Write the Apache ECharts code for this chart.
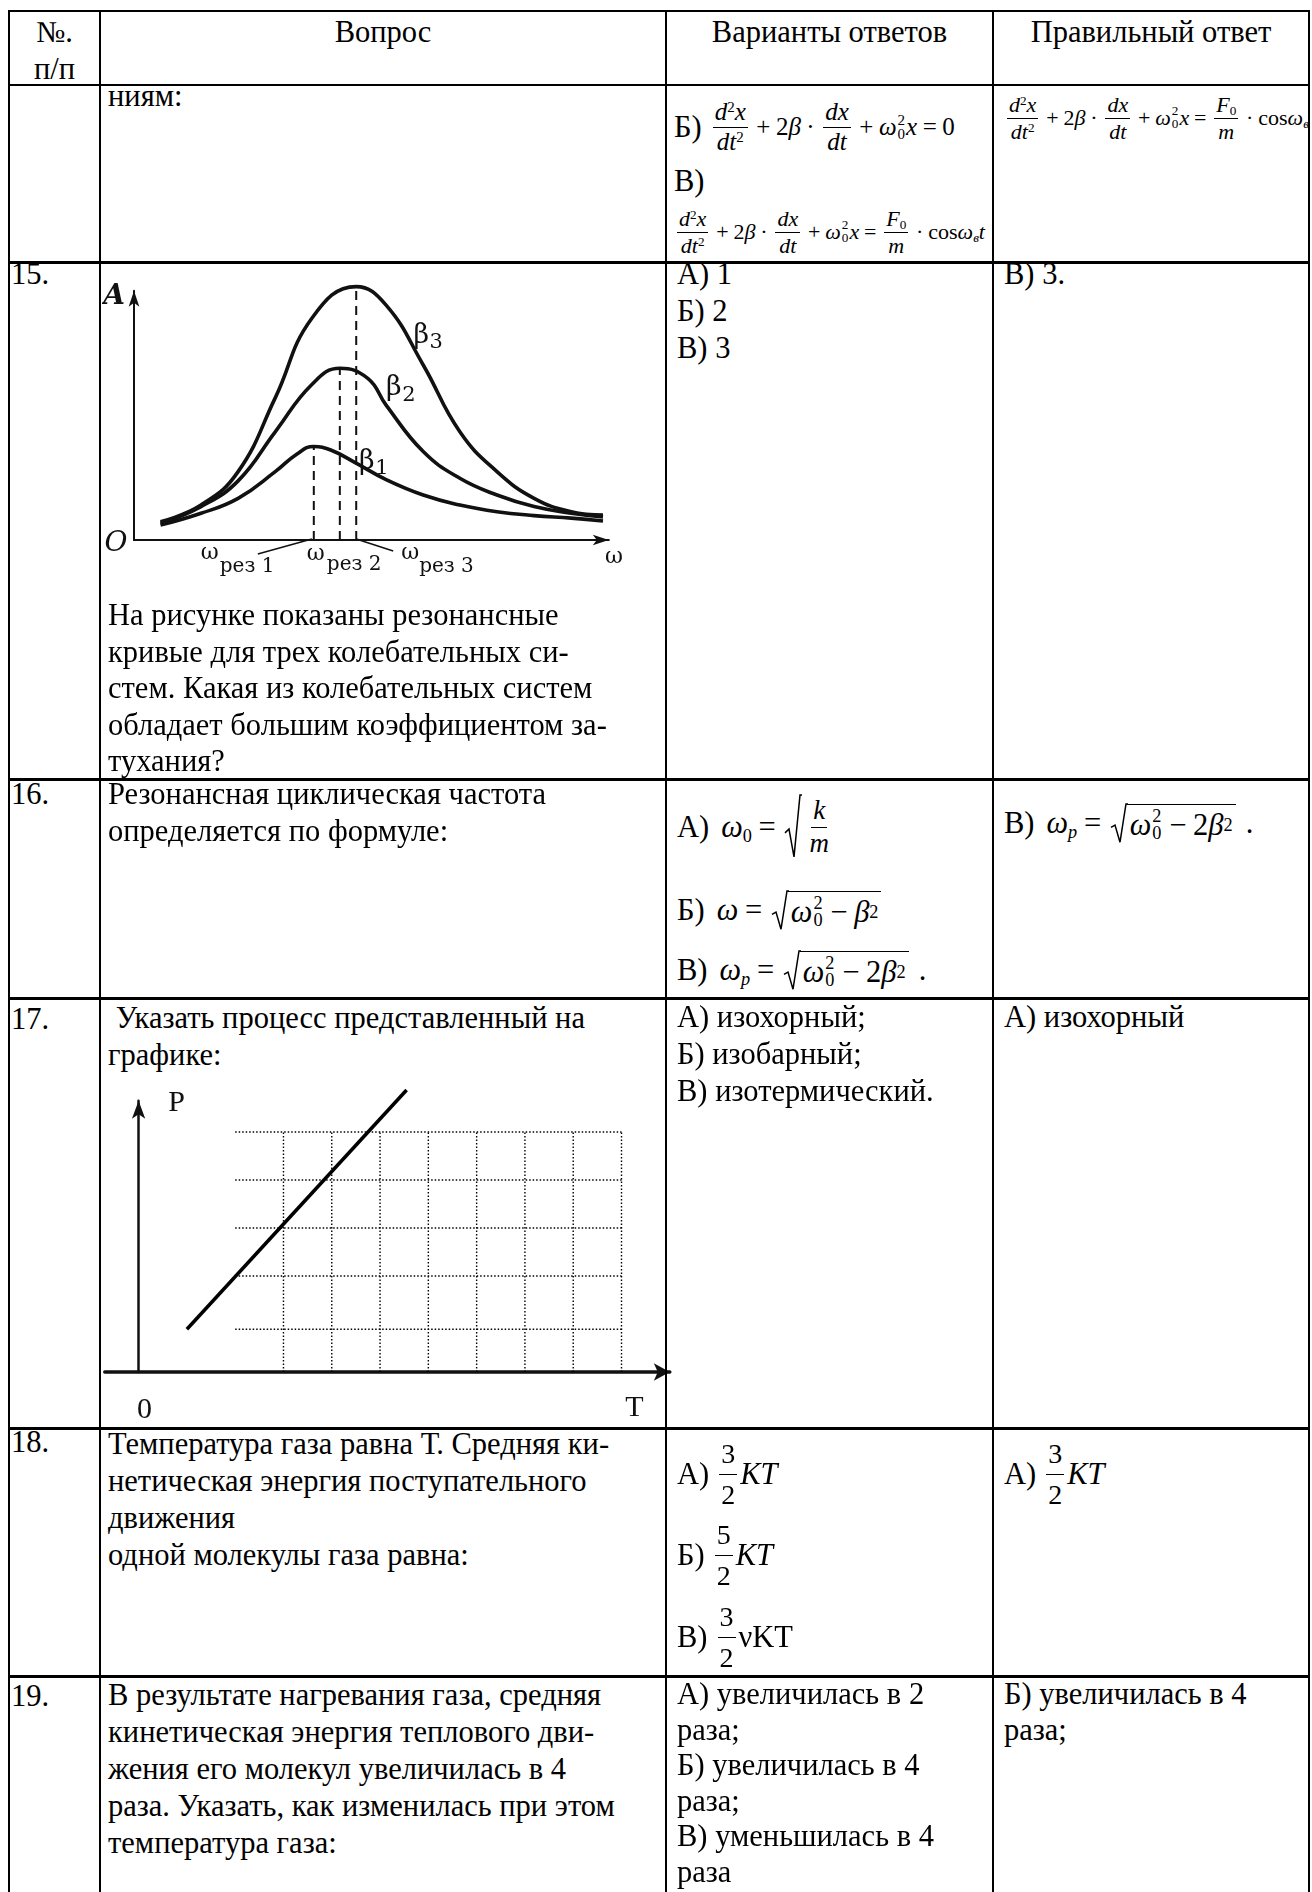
<!DOCTYPE html>
<html lang="ru">
<head>
<meta charset="utf-8">
<title>Тестовые задания 15–19</title>
<script src="https://cdn.jsdelivr.net/npm/echarts@6/dist/echarts.min.js"></script>
<style>
  body { margin: 0; background: #fff; }
  #page { position: relative; width: 1312px; height: 1892px; overflow: hidden;
          font-family: 'Liberation Serif', 'Times New Roman', serif; color: #000; }
  .ln { position: absolute; background: #000; }
  .c { position: absolute; font-size: 30.5px; line-height: 37px; white-space: nowrap; }
  .ctr { text-align: center; }
  .fl { position: absolute; display: flex; align-items: center; white-space: nowrap;
        font-size: 30.5px; height: 100px; }
  .eq { display: inline-flex; align-items: center; }
  .frac { display: inline-flex; flex-direction: column; align-items: center; margin: 0 3px; }
  .frac > .n { border-bottom: 1.4px solid #000; padding: 0 2px; line-height: 1.15; }
  .frac > .d { line-height: 1.15; padding: 0 2px; }
  .op { padding: 0 0.22em; }
  sup { font-size: 0.6em; vertical-align: 0.55em; line-height: 0; }
  sub { font-size: 0.6em; vertical-align: -0.25em; line-height: 0; }
  .ss { display: inline-flex; flex-direction: column; font-size: 0.6em; line-height: 0.95; margin: 0 1px; }
  .sqrt { position: relative; display: inline-flex; align-items: center; padding-left: 16px; margin-left: 3px; }
  .sqrt svg { position: absolute; left: 0; top: 0; width: 16px; height: 100%; overflow: visible; }
  .sqrt polyline { fill: none; stroke: #000; stroke-width: 1.5; }
  .rc { display: inline-flex; align-items: center; border-top: 1.5px solid #000; padding: 3px 3px 0; }
  #resonance { position: absolute; left: 102px; top: 263px; width: 545px; height: 335px; }
  #isochore { position: absolute; left: 102px; top: 1080px; width: 590px; height: 346px; }
</style>
</head>
<body>
<div id="page">

  <!-- шапка -->
  <div class="c ctr" style="left:9px;top:14px;width:91px">№.</div>
  <div class="c ctr" style="left:9px;top:51px;width:91px">п/п</div>
  <div class="c ctr" style="left:100px;top:14px;width:566px">Вопрос</div>
  <div class="c ctr" style="left:666px;top:14px;width:327px">Варианты ответов</div>
  <div class="c ctr" style="left:993px;top:14px;width:316px">Правильный ответ</div>

  <!-- продолжение 14 -->
  <div class="c" style="left:108px;top:78px">ниям:</div>
  <div class="fl" style="left:674px;top:77px">
    <span>Б)</span>
    <span class="eq" style="font-size:25px;margin-left:8px">
      <span class="frac"><span class="n"><i>d</i><sup>2</sup><i>x</i></span><span class="d"><i>dt</i><sup>2</sup></span></span>
      <span class="op">+</span><span>2<i>β</i></span><span class="op">·</span>
      <span class="frac"><span class="n"><i>dx</i></span><span class="d"><i>dt</i></span></span>
      <span class="op">+</span><i>ω</i><span class="ss"><span>2</span><span>0</span></span><i>x</i>
      <span class="op">=</span><span>0</span>
    </span>
  </div>
  <div class="c" style="left:674px;top:163px">В)</div>
  <div class="fl" style="left:674px;top:182px">
    <span class="eq" style="font-size:22px">
      <span class="frac"><span class="n"><i>d</i><sup>2</sup><i>x</i></span><span class="d"><i>dt</i><sup>2</sup></span></span>
      <span class="op">+</span><span>2<i>β</i></span><span class="op">·</span>
      <span class="frac"><span class="n"><i>dx</i></span><span class="d"><i>dt</i></span></span>
      <span class="op">+</span><i>ω</i><span class="ss"><span>2</span><span>0</span></span><i>x</i>
      <span class="op">=</span>
      <span class="frac"><span class="n"><i>F</i><sub>0</sub></span><span class="d"><i>m</i></span></span>
      <span class="op">·</span><span>cos<i>ω</i><sub><i>в</i></sub><i>t</i></span>
    </span>
  </div>
  <div style="position:absolute;left:995px;top:86px;width:313px;height:175px;overflow:hidden">
    <div class="fl" style="left:9px;top:-18px">
      <span class="eq" style="font-size:22px">
        <span class="frac"><span class="n"><i>d</i><sup>2</sup><i>x</i></span><span class="d"><i>dt</i><sup>2</sup></span></span>
        <span class="op">+</span><span>2<i>β</i></span><span class="op">·</span>
        <span class="frac"><span class="n"><i>dx</i></span><span class="d"><i>dt</i></span></span>
        <span class="op">+</span><i>ω</i><span class="ss"><span>2</span><span>0</span></span><i>x</i>
        <span class="op">=</span>
        <span class="frac"><span class="n"><i>F</i><sub>0</sub></span><span class="d"><i>m</i></span></span>
        <span class="op">·</span><span>cos<i>ω</i><sub><i>в</i></sub><i>t</i></span>
      </span>
    </div>
  </div>

  <!-- 15 -->
  <div class="c" style="left:11px;top:256px">15.</div>
  <div id="resonance"></div>
  <div class="c" style="left:108px;top:597px;line-height:36.5px">На рисунке показаны резонансные<br>кривые для трех колебательных си-<br>стем. Какая из колебательных систем<br>обладает большим коэффициентом за-<br>тухания?</div>
  <div class="c" style="left:677px;top:256px">А) 1<br>Б) 2<br>В) 3</div>
  <div class="c" style="left:1004px;top:256px">В) 3.</div>

  <!-- 16 -->
  <div class="c" style="left:11px;top:776px">16.</div>
  <div class="c" style="left:108px;top:776px">Резонансная циклическая частота<br>определяется по формуле:</div>
  <div class="fl" style="left:677px;top:777px">
    <span>А)</span>
    <span class="eq" style="margin-left:12px">
      <span><i>ω</i><sub>0</sub></span><span class="op">=</span>
      <span class="sqrt"><svg viewBox="0 0 16 100" preserveAspectRatio="none"><polyline vector-effect="non-scaling-stroke" points="0,60 4,54 9,98 15,0 17,0"/></svg>
        <span class="rc" style="border-top:none;padding-top:0"><span class="frac" style="font-size:27px"><span class="n"><i>k</i></span><span class="d"><i>m</i></span></span></span></span>
    </span>
  </div>
  <div class="fl" style="left:677px;top:860px">
    <span>Б)</span>
    <span class="eq" style="margin-left:12px">
      <i>ω</i><span class="op">=</span>
      <span class="sqrt"><svg viewBox="0 0 16 100" preserveAspectRatio="none"><polyline vector-effect="non-scaling-stroke" points="0,60 4,54 9,98 15,0 17,0"/></svg>
        <span class="rc"><i>ω</i><span class="ss"><span>2</span><span>0</span></span><span class="op">−</span><i>β</i><sup style="vertical-align:0.7em">2</sup></span></span>
    </span>
  </div>
  <div class="fl" style="left:677px;top:920px">
    <span>В)</span>
    <span class="eq" style="margin-left:12px">
      <span><i>ω</i><sub><i>p</i></sub></span><span class="op">=</span>
      <span class="sqrt"><svg viewBox="0 0 16 100" preserveAspectRatio="none"><polyline vector-effect="non-scaling-stroke" points="0,60 4,54 9,98 15,0 17,0"/></svg>
        <span class="rc"><i>ω</i><span class="ss"><span>2</span><span>0</span></span><span class="op">−</span>2<i>β</i><sup style="vertical-align:0.7em">2</sup></span></span>
      <span style="margin-left:10px">.</span>
    </span>
  </div>
  <div class="fl" style="left:1004px;top:773px">
    <span>В)</span>
    <span class="eq" style="margin-left:12px">
      <span><i>ω</i><sub><i>p</i></sub></span><span class="op">=</span>
      <span class="sqrt"><svg viewBox="0 0 16 100" preserveAspectRatio="none"><polyline vector-effect="non-scaling-stroke" points="0,60 4,54 9,98 15,0 17,0"/></svg>
        <span class="rc"><i>ω</i><span class="ss"><span>2</span><span>0</span></span><span class="op">−</span>2<i>β</i><sup style="vertical-align:0.7em">2</sup></span></span>
      <span style="margin-left:10px">.</span>
    </span>
  </div>

  <!-- 17 -->
  <div class="c" style="left:11px;top:1001px">17.</div>
  <div class="c" style="left:108px;top:1000px">&nbsp;Указать процесс представленный на<br>графике:</div>
  <div id="isochore"></div>
  <div class="c" style="left:677px;top:999px">А) изохорный;<br>Б) изобарный;<br>В) изотермический.</div>
  <div class="c" style="left:1004px;top:999px">А) изохорный</div>

  <!-- 18 -->
  <div class="c" style="left:11px;top:1424px">18.</div>
  <div class="c" style="left:108px;top:1426px">Температура газа равна Т. Средняя ки-<br>нетическая энергия поступательного<br>движения<br>одной молекулы газа равна:</div>
  <div class="fl" style="left:677px;top:1424px">
    <span>А)</span>
    <span class="frac" style="font-size:28px;margin-left:10px"><span class="n" style="line-height:1.4">3</span><span class="d" style="line-height:1.4">2</span></span>
    <i>KT</i>
  </div>
  <div class="fl" style="left:677px;top:1505px">
    <span>Б)</span>
    <span class="frac" style="font-size:28px;margin-left:10px"><span class="n" style="line-height:1.4">5</span><span class="d" style="line-height:1.4">2</span></span>
    <i>KT</i>
  </div>
  <div class="fl" style="left:677px;top:1587px">
    <span>В)</span>
    <span class="frac" style="font-size:28px;margin-left:10px"><span class="n" style="line-height:1.4">3</span><span class="d" style="line-height:1.4">2</span></span>
    <span>νKT</span>
  </div>
  <div class="fl" style="left:1004px;top:1424px">
    <span>А)</span>
    <span class="frac" style="font-size:28px;margin-left:10px"><span class="n" style="line-height:1.4">3</span><span class="d" style="line-height:1.4">2</span></span>
    <i>KT</i>
  </div>

  <!-- 19 -->
  <div class="c" style="left:11px;top:1678px">19.</div>
  <div class="c" style="left:108px;top:1677px">В результате нагревания газа, средняя<br>кинетическая энергия теплового дви-<br>жения его молекул увеличилась в 4<br>раза. Указать, как изменилась при этом<br>температура газа:</div>
  <div class="c" style="left:677px;top:1677px;line-height:35.5px">А) увеличилась в 2<br>раза;<br>Б) увеличилась в 4<br>раза;<br>В) уменьшилась в 4<br>раза</div>
  <div class="c" style="left:1004px;top:1677px;line-height:35.5px">Б) увеличилась в 4<br>раза;</div>
</div>

<script>
// ---- таблица: границы строк и столбцов (px) ----
const rowLines = [11, 85, 262, 779, 998, 1428, 1676];
const colLines = [9, 100, 666, 993, 1309];

// ---- резонансные кривые, точки [ω, A] ----
const beta1Curve = [[5.5, 5.8], [13.9, 10.4], [21.6, 16.2], [29.3, 26.6], [33.9, 33.6], [37.3, 36.4],
  [40.8, 35.0], [45.6, 30.4], [52.3, 23.5], [60.0, 17.5], [67.6, 13.6], [75.3, 11.0], [83.0, 9.5],
  [90.7, 8.5], [97.3, 7.4]];
const beta2Curve = [[5.5, 6.5], [13.9, 13.0], [21.6, 23.0], [29.3, 42.1], [36.9, 60.5], [42.7, 66.8],
  [48.5, 62.9], [52.3, 52.5], [60.0, 34.4], [67.6, 24.0], [75.3, 17.5], [83.0, 13.0], [90.7, 10.4],
  [97.3, 9.0]];
const beta3Curve = [[5.5, 7.1], [13.9, 13.6], [21.6, 26.6], [29.3, 55.3], [36.9, 86.3], [46.1, 98.6],
  [52.3, 91.4], [60.0, 68.1], [67.6, 42.1], [75.3, 26.6], [83.0, 16.2], [90.7, 11.0], [97.3, 9.7]];
const resonanceOmega = [37.3, 42.7, 46.1];
const resonancePeak = [36.4, 66.8, 98.6];
const resonanceNames = ['рез 1', 'рез 2', 'рез 3'];
const betaIndex = ['1', '2', '3'];

// ---- график P(T) ----
const isochoreT = [1.0, 5.55];
const isochoreP = [0.89, 5.875];
const gridT = [3, 4, 5, 6, 7, 8, 9, 10];
const gridP = [0.89, 2, 3, 4, 5];
const gridTFrom = 2;
const gridTTo = 10;
const gridPTop = 5;

// линии таблицы
const page = document.getElementById('page');
rowLines.forEach((y, i) => {
  const d = document.createElement('div');
  const w = i < 2 ? 2 : 3;
  d.className = 'ln';
  d.style.cssText = `left:${colLines[0] - 1}px;top:${y - 1}px;width:${colLines[colLines.length - 1] - colLines[0] + 2}px;height:${w}px`;
  page.appendChild(d);
});
colLines.forEach((x) => {
  const d = document.createElement('div');
  d.className = 'ln';
  d.style.cssText = `left:${x - 1}px;top:${rowLines[0] - 1}px;width:2px;height:${1892 - rowLines[0] + 1}px`;
  page.appendChild(d);
});

const ink = '#111';
const labelFont = 'DejaVu Serif';
const bareAxis = (min, max, size, width) => ({
  type: 'value', min, max,
  axisLine: { show: true, symbol: ['none', 'arrow'], symbolSize: size, lineStyle: { color: ink, width } },
  axisTick: { show: false }, axisLabel: { show: false }, splitLine: { show: false },
});
const text = (x, y, str, size, extra) => ({
  type: 'text', x, y, silent: true,
  style: Object.assign({ text: str, fontFamily: labelFont, fontSize: size, fill: ink,
    align: 'center', verticalAlign: 'middle' }, extra || {}),
});

// ---- резонансные кривые ----
const resChart = echarts.init(document.getElementById('resonance'));
const curves = [beta1Curve, beta2Curve, beta3Curve].map((d) => ({
  type: 'line', data: d, smooth: 0.45, symbol: 'none', clip: false, silent: true,
  lineStyle: { color: ink, width: 3.6 },
}));
const dashes = resonanceOmega.map((w, i) => ({
  type: 'line', data: [[w, 0], [w, resonancePeak[i]]], symbol: 'none', clip: false, silent: true,
  lineStyle: { color: ink, width: 2, type: [9, 6] },
}));
resChart.setOption({
  animation: false,
  grid: { left: 32, top: 27.7, width: 474.8, height: 249.3, outerBoundsMode: 'none' },
  xAxis: bareAxis(0, 98.5, [8, 16], 2),
  yAxis: bareAxis(0, 97, [8, 16], 2),
  series: [...dashes, ...curves],
});

const toPx = (chart, pt) => chart.convertToPixel({ gridIndex: 0 }, pt);
const o = toPx(resChart, [0, 0]);
const betaAt = [[48.3, 30.4], [53.9, 59.1], [59.6, 79.5]];
const wOffset = [[-104, 13], [-24, 14], [54, 13]];
const rezOffset = [[-94, 27], [-13, 25], [63, 27]];
const resGraphic = [
  text(o[0] - 20, o[1] - 243, 'A', 28, { fontStyle: 'italic', fontWeight: 'bold' }),
  text(o[0] - 18, o[1] + 4, 'O', 28, { fontStyle: 'italic' }),
  text(o[0] + 480, o[1] + 17, 'ω', 22),
];
betaAt.forEach((p, i) => {
  const q = toPx(resChart, p);
  resGraphic.push(text(q[0], q[1], 'β', 27));
  resGraphic.push(text(q[0] + 15, q[1] + 7, betaIndex[i], 21));
});
resonanceOmega.forEach((w, i) => {
  const q = toPx(resChart, [w, 0]);
  resGraphic.push(text(q[0] + wOffset[i][0], q[1] + wOffset[i][1], 'ω', 22));
  resGraphic.push(text(q[0] + rezOffset[i][0], q[1] + rezOffset[i][1], resonanceNames[i], 20, { align: 'left' }));
});
const b1 = toPx(resChart, [resonanceOmega[0], 0]);
const b3 = toPx(resChart, [resonanceOmega[2], 0]);
resGraphic.push({ type: 'line', silent: true, shape: { x1: b1[0] - 56, y1: b1[1] + 14, x2: b1[0] - 2, y2: b1[1] - 1 },
  style: { stroke: ink, lineWidth: 1.5 } });
resGraphic.push({ type: 'line', silent: true, shape: { x1: b3[0], y1: b3[1] - 1, x2: b3[0] + 37, y2: b3[1] + 11 },
  style: { stroke: ink, lineWidth: 1.5 } });
resChart.setOption({ graphic: resGraphic });

// ---- изохора ----
const pvChart = echarts.init(document.getElementById('isochore'));
const dotted = { color: '#000', width: 1.4, type: [1.5, 2] };
const vGrid = gridT.map((t) => ({
  type: 'line', data: [[t, 0], [t, gridPTop]], symbol: 'none', silent: true, lineStyle: dotted,
}));
const hGrid = gridP.map((p) => ({
  type: 'line', data: [[gridTFrom, p], [gridTTo, p]], symbol: 'none', silent: true, lineStyle: dotted,
}));
pvChart.setOption({
  animation: false,
  grid: { left: 2.8, top: 20.8, width: 565, height: 271.2, outerBoundsMode: 'none' },
  xAxis: bareAxis(-0.7, 11.0, [13, 16], 3.5),
  yAxis: bareAxis(0, 5.65, [10, 18], 2.5),
  series: [...vGrid, ...hGrid, {
    type: 'line', data: isochoreT.map((t, i) => [t, isochoreP[i]]), symbol: 'none', clip: false, silent: true,
    lineStyle: { color: '#000', width: 3.5 },
  }],
});
const p0 = toPx(pvChart, [0, 0]);
const tEnd = toPx(pvChart, [gridTTo, 0]);
const serif = { fontFamily: 'Liberation Serif' };
pvChart.setOption({
  graphic: [
    text(p0[0] + 38, p0[1] - 269, 'P', 30, serif),
    text(p0[0] + 6, p0[1] + 38, '0', 30, serif),
    text(tEnd[0] + 13, tEnd[1] + 36, 'T', 30, serif),
  ],
});
</script>
</body>
</html>
